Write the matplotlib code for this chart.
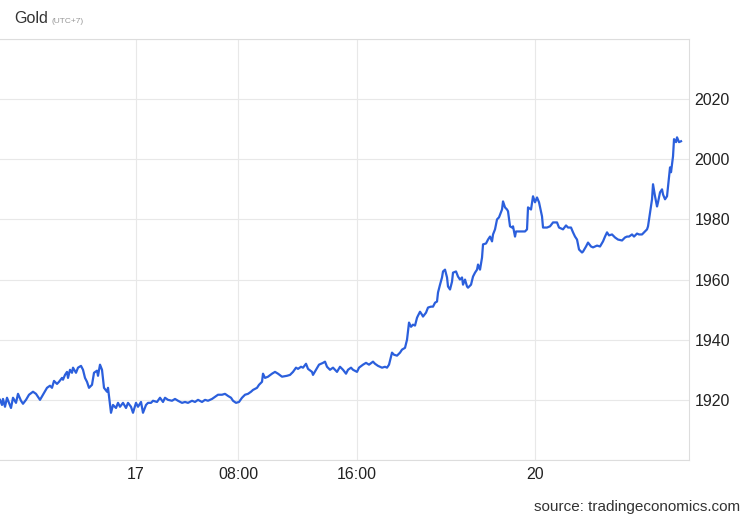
import matplotlib
matplotlib.use("Agg")
import matplotlib.pyplot as plt

plt.rcParams['font.family'] = ['Liberation Sans', 'DejaVu Sans']

# Gold price, intraday bars (bar number along the session axis, price in USD)
bars = [0, 2, 3, 5, 7, 9, 11, 13, 16, 18, 21, 23, 26, 29, 33, 36, 40, 43, 47, 50,
        52, 54, 57, 59, 62, 63, 65, 67, 68, 70, 72, 73, 76, 78, 81, 83, 85, 87, 89, 92,
        94, 97, 98, 100, 102, 104, 107, 108, 111, 113, 116, 118,
        120, 123, 126, 128, 131, 133, 136, 138, 141, 143, 146, 148, 151, 153, 157, 160,
        163, 165, 168, 172, 175, 178, 182, 185, 188, 192, 195, 198, 202, 205, 208, 212,
        215, 218, 222, 225, 228, 231, 233, 236, 239, 242, 245, 248, 251, 253, 257, 259,
        262, 263, 265, 268, 272, 275, 278, 282, 287, 290, 293, 296, 298, 301, 303, 306,
        308, 312, 313, 316, 319, 323, 325, 327, 330, 333, 337, 340, 343, 346, 348, 351,
        353, 357, 359, 363, 366, 369, 373, 375, 378, 382, 385, 387, 389, 392, 394, 397,
        400, 402, 405,
        407, 409, 411, 413, 415, 417, 418, 420, 422, 423, 426, 428, 431, 433, 435, 437,
        438, 440, 442, 443, 445, 447, 448, 450, 452, 453, 456, 458, 460, 462, 463, 465,
        467, 468, 471, 473, 475, 477, 478, 480, 482, 483, 486, 488, 490, 492, 493, 495,
        497, 499, 502, 503, 505, 507, 508, 510, 512, 513, 515, 516, 518, 522, 525, 527,
        528, 531, 533, 535, 537, 539, 542, 543, 547, 550, 553, 557, 559, 563, 566, 568,
        571, 573, 575, 577, 579, 582, 583, 586, 588, 591, 593, 597, 600, 603, 605, 607,
        609, 612, 615, 618, 622, 625, 627, 629, 632, 634, 637, 639, 642, 644, 647, 648,
        650, 652, 653, 655, 657, 658, 660, 662, 663, 665, 667, 668, 670, 671, 673, 674,
        676, 677, 679, 681]
prices = [1920.0, 1918.3, 1920.3, 1917.7, 1920.7, 1919.0, 1917.3, 1920.7, 1919.0, 1922.0,
          1919.7, 1918.7, 1920.0, 1921.7, 1922.7, 1922.0, 1920.0, 1921.7, 1924.0, 1924.7,
          1924.0, 1926.3, 1925.3, 1926.0, 1927.3, 1926.7, 1928.3, 1929.3, 1927.3, 1930.0,
          1929.0, 1930.7, 1929.0, 1930.7, 1931.3, 1930.0, 1927.3, 1926.0, 1924.0, 1925.0,
          1929.0, 1929.7, 1928.0, 1931.7, 1930.0, 1924.0, 1922.7, 1924.0, 1915.7, 1918.3,
          1917.3, 1919.0,
          1917.7, 1919.0, 1917.3, 1919.0, 1917.7, 1915.7, 1919.0, 1917.7, 1919.3, 1915.7,
          1918.3, 1919.0, 1919.0, 1919.7, 1919.3, 1920.7, 1919.3, 1920.7, 1920.0, 1919.7,
          1920.3, 1919.7, 1919.0, 1919.3, 1919.0, 1919.7, 1919.3, 1920.0, 1919.3, 1920.0,
          1919.7, 1920.3, 1921.0, 1921.7, 1921.7, 1922.0, 1921.3, 1920.7, 1919.7, 1919.0,
          1919.3, 1920.7, 1921.7, 1922.0, 1922.7, 1923.3, 1924.0, 1925.0, 1926.0, 1928.7,
          1927.3, 1927.7, 1928.7, 1929.3, 1928.7, 1927.7, 1928.0, 1928.3, 1929.3, 1930.7,
          1930.3, 1931.0, 1930.7, 1932.0, 1930.3, 1929.3, 1928.3, 1930.0, 1931.7, 1932.3,
          1932.7, 1931.0, 1930.0, 1930.7, 1929.3, 1931.0, 1930.0, 1928.7, 1930.0, 1930.7,
          1930.0, 1929.3, 1930.7, 1931.7, 1932.3, 1931.7, 1932.7, 1932.0, 1931.3, 1930.7,
          1931.0, 1930.7, 1931.7, 1935.7, 1935.0, 1934.7, 1935.7, 1936.7, 1937.3,
          1940.0, 1945.7, 1944.3, 1945.0, 1944.7, 1947.3, 1948.0, 1949.3, 1948.3, 1947.7,
          1949.0, 1950.7, 1951.0, 1951.0, 1952.3, 1952.7, 1955.7, 1958.3, 1960.7, 1962.7,
          1963.3, 1960.7, 1957.7, 1956.7, 1959.3, 1962.3, 1962.7, 1961.0, 1960.0, 1960.7,
          1958.3, 1960.0, 1957.7, 1957.3, 1958.3, 1961.0, 1962.3, 1963.3, 1965.0, 1963.3,
          1967.3, 1971.7, 1972.0, 1973.3, 1974.3, 1972.7, 1975.0, 1976.7, 1980.0, 1980.7,
          1983.3, 1986.0, 1984.0, 1983.3, 1982.7, 1977.7, 1977.3, 1977.7, 1974.3, 1976.0,
          1976.0, 1976.0, 1976.0, 1976.7, 1984.0, 1983.3, 1987.7, 1985.7, 1987.3, 1985.7,
          1981.0, 1977.3, 1977.3, 1977.7, 1979.0, 1979.0, 1977.3, 1976.7, 1978.0, 1977.3,
          1977.3, 1975.7, 1974.3, 1973.3, 1970.0, 1969.0, 1969.3, 1971.0, 1972.3, 1971.0,
          1970.7, 1971.3, 1971.0, 1972.7, 1974.3, 1975.7, 1974.7, 1975.0, 1974.0, 1973.3,
          1973.0, 1974.0, 1974.3, 1974.3, 1975.0, 1974.3, 1975.3, 1975.0, 1975.0, 1975.7,
          1976.7, 1977.7, 1982.3, 1986.7, 1991.7, 1987.7, 1984.3, 1985.7, 1989.0, 1990.0,
          1988.3, 1986.7, 1987.7, 1991.0, 1997.3, 1995.7, 2001.0, 2006.7, 2005.7, 2007.3,
          2005.7, 2006.0]

x_tick_bars = [136, 238, 357, 535]
x_tick_labels = ["17", "08:00", "16:00", "20"]
y_ticks = [1900, 1920, 1940, 1960, 1980, 2000, 2020, 2040]
y_tick_labels = ["", "1920", "1940", "1960", "1980", "2000", "2020", ""]

fig = plt.figure(figsize=(7.5, 5.2), dpi=100)
ax = fig.add_axes([0.0, 0.1154, 0.9187, 0.8096])

ax.plot(bars, prices, color="#2b5fdc", linewidth=1.6, solid_joinstyle="round")

ax.set_xlim(0, 689)
ax.set_ylim(1900, 2040)
ax.set_xticks(x_tick_bars)
ax.set_xticklabels(x_tick_labels)
ax.set_yticks(y_ticks)
ax.set_yticklabels(y_tick_labels)
ax.yaxis.tick_right()

ax.grid(True, color="#e8e8e8", linewidth=0.8)
ax.set_axisbelow(True)
ax.tick_params(axis="both", length=0, labelsize=11.5, colors="#222222")
ax.tick_params(axis="x", pad=5)
ax.tick_params(axis="y", pad=4)

for side in ["top", "bottom", "right"]:
    ax.spines[side].set_color("#dddddd")
    ax.spines[side].set_linewidth(0.8)
ax.spines["left"].set_visible(False)

# title and source
fig.text(0.019, 0.955, "Gold", fontsize=11.5, color="#333333", va="baseline")
fig.text(0.0655 + 0.0035, 0.955, "(UTC+7)", fontsize=6, color="#999999", va="baseline")
fig.text(0.987, 0.017, "source: tradingeconomics.com", fontsize=11, color="#333333",
         ha="right", va="baseline")

fig.savefig("out.png", dpi=100)
